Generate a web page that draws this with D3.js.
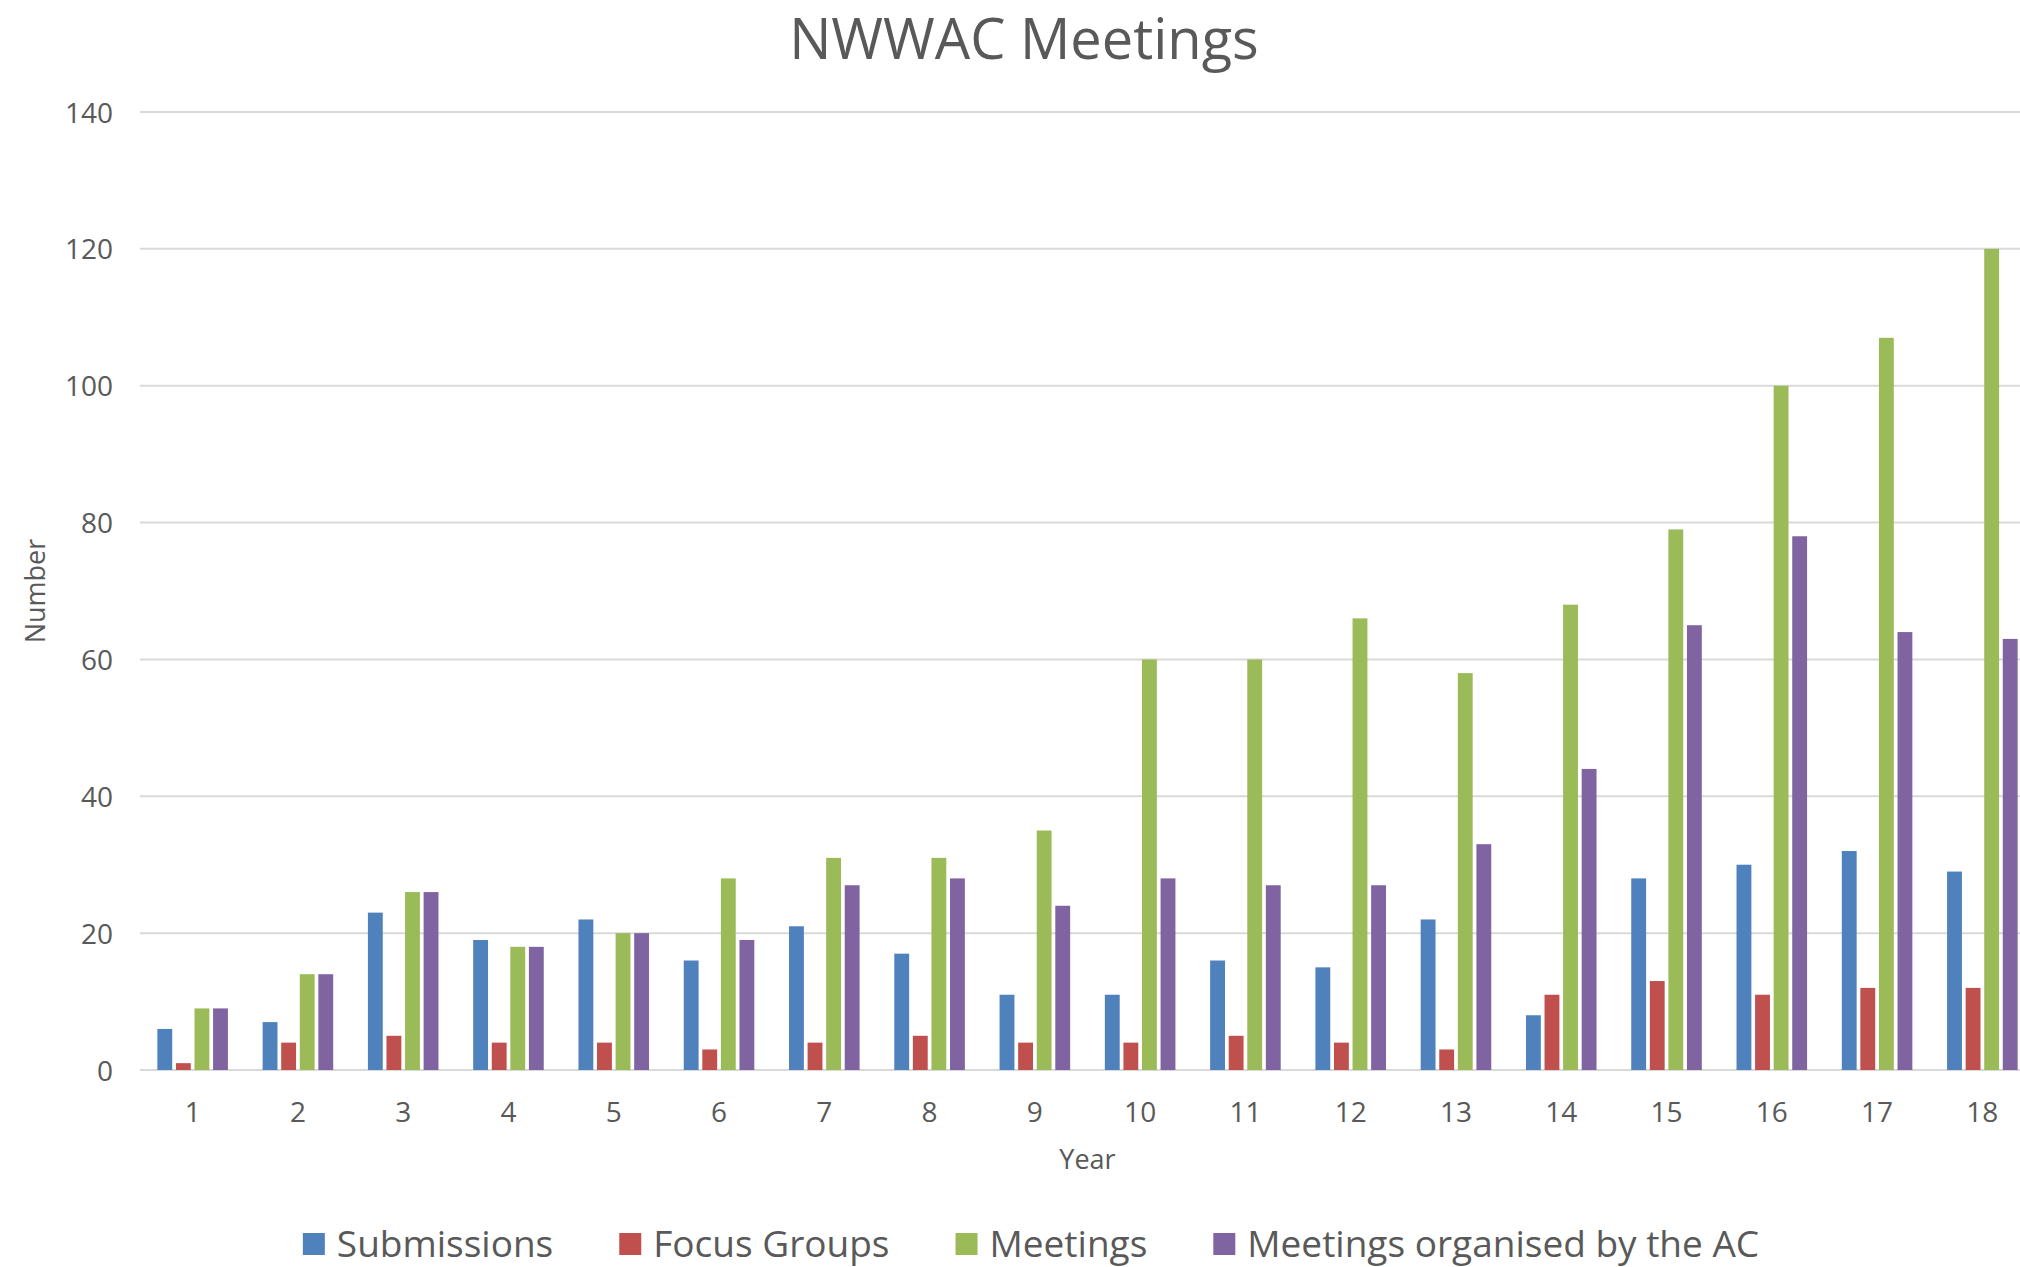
<!DOCTYPE html>
<html>
<head>
<meta charset="utf-8">
<script src="https://cdn.jsdelivr.net/npm/d3@7"></script>
<style>
  body { margin: 0; background: #fff; }
  svg { display: block; font-family: "Open Sans", sans-serif; }
  .grid line { stroke: #d9d9d9; stroke-width: 2; }
  .tick text { fill: #595959; }
</style>
</head>
<body>
<svg id="chart" width="2020" height="1267"></svg>
<script>
// chart data
var years = [1, 2, 3, 4, 5, 6, 7, 8, 9, 10, 11, 12, 13, 14, 15, 16, 17, 18];
var submissions = [6, 7, 23, 19, 22, 16, 21, 17, 11, 11, 16, 15, 22, 8, 28, 30, 32, 29];
var focusGroups = [1, 4, 5, 4, 4, 3, 4, 5, 4, 4, 5, 4, 3, 11, 13, 11, 12, 12];
var meetings = [9, 14, 26, 18, 20, 28, 31, 31, 35, 60, 60, 66, 58, 68, 79, 100, 107, 120];
var meetingsAC = [9, 14, 26, 18, 20, 19, 27, 28, 24, 28, 27, 27, 33, 44, 65, 78, 64, 63];
var seriesNames = ["Submissions", "Focus Groups", "Meetings", "Meetings organised by the AC"];
var seriesValues = [submissions, focusGroups, meetings, meetingsAC];
var colors = ["#4f81bd", "#c0504d", "#9bbb59", "#8064a2"];
var yTicks = [0, 20, 40, 60, 80, 100, 120, 140];

var svg = d3.select("#chart");
var plotLeft = 140, plotRight = 2035, plotTop = 112, plotBottom = 1070;

var x0 = d3.scaleBand().domain(years).range([plotLeft, plotRight]).padding(0);
var x1 = d3.scaleBand().domain(d3.range(4)).range([-39, 39]).padding(0.2);
var y = d3.scaleLinear().domain([0, 140]).range([plotBottom, plotTop]);

// gridlines
var grid = svg.append("g").attr("class", "grid");
grid.selectAll("line").data(yTicks).join("line")
  .attr("x1", plotLeft).attr("x2", 2020)
  .attr("y1", d => y(d)).attr("y2", d => y(d));

// y axis labels
var yAxis = svg.append("g")
  .attr("transform", "translate(" + (plotLeft - 27) + ",0)")
  .call(d3.axisLeft(y).tickValues(yTicks).tickSize(0).tickPadding(0))
  .attr("font-family", null).attr("font-size", null);
yAxis.select(".domain").remove();
yAxis.selectAll("text").attr("font-size", 28).attr("dy", "0.36em");

// x axis labels
var xAxis = svg.append("g")
  .attr("transform", "translate(0," + plotBottom + ")")
  .call(d3.axisBottom(x0).tickSize(0).tickPadding(32))
  .attr("font-family", null).attr("font-size", null);
xAxis.select(".domain").remove();
xAxis.selectAll("text").attr("font-size", 28);

// bars
var groups = svg.append("g").selectAll("g").data(years).join("g")
  .attr("transform", d => "translate(" + (x0(d) + x0.bandwidth() / 2) + ",0)");
groups.selectAll("rect")
  .data((d, i) => seriesValues.map((s, k) => ({ k: k, v: s[i] })))
  .join("rect")
  .attr("x", d => x1(d.k))
  .attr("width", x1.bandwidth())
  .attr("y", d => y(d.v))
  .attr("height", d => y(0) - y(d.v))
  .attr("fill", d => colors[d.k]);

// title and axis titles
svg.append("text")
  .attr("x", 1024).attr("y", 59)
  .attr("text-anchor", "middle")
  .attr("font-size", 56)
  .attr("fill", "#595959")
  .text("NWWAC Meetings");

svg.append("text")
  .attr("x", (plotLeft + plotRight) / 2).attr("y", 1169)
  .attr("text-anchor", "middle")
  .attr("font-size", 27)
  .attr("fill", "#595959")
  .text("Year");

svg.append("text")
  .attr("transform", "translate(45," + ((plotTop + plotBottom) / 2) + ") rotate(-90)")
  .attr("text-anchor", "middle")
  .attr("font-size", 27)
  .attr("fill", "#595959")
  .text("Number");

// legend
var legend = svg.append("g");
var lx = 0;
seriesNames.forEach(function(name, k) {
  var item = legend.append("g").attr("transform", "translate(" + lx + ",0)");
  item.append("rect")
    .attr("x", 0).attr("y", -11).attr("width", 22).attr("height", 22)
    .attr("fill", colors[k]);
  var t = item.append("text")
    .attr("x", 34).attr("y", 0).attr("dy", "0.35em")
    .attr("font-size", 37)
    .attr("fill", "#595959")
    .text(name);
  lx += 34 + t.node().getComputedTextLength() + 66;
});
lx -= 66;
legend.attr("transform", "translate(" + (1031 - lx / 2) + ",1244)");
</script>
</body>
</html>
